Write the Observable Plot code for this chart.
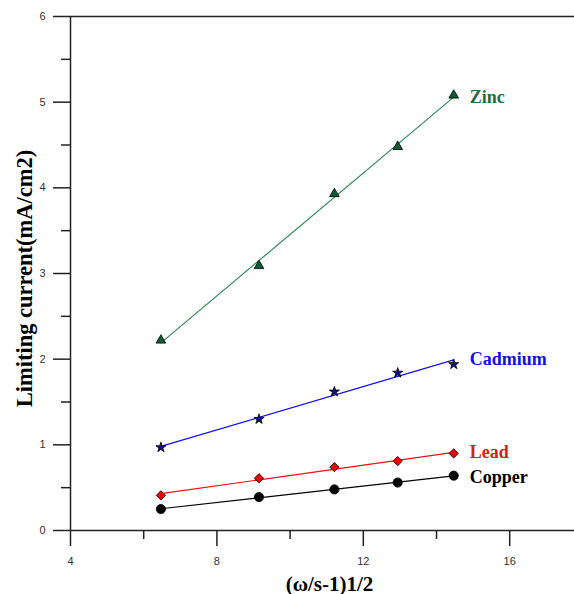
<!DOCTYPE html>
<html><head><meta charset="utf-8">
<script src="https://cdn.jsdelivr.net/npm/d3@7"></script>
<script src="https://cdn.jsdelivr.net/npm/@observablehq/plot@0.6"></script>
<style>body{margin:0;background:#fff}</style>
</head><body><div id="chart"></div>
<script>
const omegaRoot = [6.47, 9.15, 11.21, 12.94, 14.47];
const zinc    = [2.22, 3.09, 3.93, 4.48, 5.08];
const cadmium = [0.97, 1.30, 1.62, 1.84, 1.94];
const lead    = [0.41, 0.61, 0.74, 0.81, 0.90];
const copper  = [0.25, 0.39, 0.48, 0.56, 0.64];
const xMajor = [4, 8, 12, 16];
const xMinor = [6, 10, 14];
const yMajor = [0, 1, 2, 3, 4, 5, 6];
const yMinor = [0.5, 1.5, 2.5, 3.5, 4.5, 5.5];

const series = [
  {name: "Zinc", values: zinc, symbol: "triangle", fill: "#0d5c36", line: "#2e8b57", text: "#1b6e3e", dy: 2, r: 3.6},
  {name: "Cadmium", values: cadmium, symbol: "star", fill: "#101090", line: "#1010f0", text: "#1010e0", dy: -5, r: 3.2},
  {name: "Lead", values: lead, symbol: "diamond2", fill: "#f00000", line: "#f01010", text: "#d42020", dy: -1, r: 4.2},
  {name: "Copper", values: copper, symbol: "circle", fill: "#000000", line: "#000000", text: "#000000", dy: 2, r: 4.6}
];
const rows = series.flatMap(s => s.values.map((v, i) => ({series: s.name, x: omegaRoot[i], y: v})));

const marks = [];
for (const s of series) {
  const d = rows.filter(r => r.series === s.name);
  marks.push(Plot.linearRegressionY(d, {x: "x", y: "y", ci: 0, stroke: s.line, strokeWidth: 1.2}));
  marks.push(Plot.dot(d, {x: "x", y: "y", symbol: s.symbol, fill: s.fill, stroke: "#000", strokeWidth: 0.8, r: s.r}));
  marks.push(Plot.text([d[d.length - 1]], {x: "x", y: "y", text: () => s.name, textAnchor: "start", dx: 16, dy: s.dy,
    fill: s.text, fontSize: 18, fontWeight: "bold", fontFamily: "Liberation Serif"}));
}

const chart = Plot.plot({
  width: 574, height: 594,
  marginLeft: 70, marginRight: 0, marginTop: 16, marginBottom: 64,
  x: {domain: [4, 17.77], axis: null},
  y: {domain: [0, 6], axis: null},
  style: {fontFamily: "Liberation Sans", background: "#fff"},
  marks: [
    Plot.ruleY([0], {stroke: "#222", strokeWidth: 1.5}),
    Plot.ruleY([6], {stroke: "#222", strokeWidth: 1.5}),
    Plot.ruleX([4], {stroke: "#222", strokeWidth: 1.5}),
    Plot.axisY({ticks: yMajor, tickSize: 17, tickPadding: 8, tickFormat: d => String(d), fontSize: 11, stroke: "#222", strokeWidth: 1.5, color: "#333", label: null}),
    Plot.axisY({ticks: yMinor, tickSize: 9, tickFormat: () => "", stroke: "#222", strokeWidth: 1.5, label: null}),
    Plot.axisX({ticks: xMajor, tickSize: 16, tickPadding: 11, tickFormat: d => String(d), fontSize: 11, stroke: "#222", strokeWidth: 1.5, color: "#333", label: null}),
    Plot.axisX({ticks: xMinor, tickSize: 9, tickFormat: () => "", stroke: "#222", strokeWidth: 1.5, label: null}),
    ...marks,
    Plot.text(["Limiting current(mA/cm2)"], {frameAnchor: "left", textAnchor: "middle", lineAnchor: "middle", rotate: -90, dx: -46, dy: 5, fontSize: 22.5, fontWeight: "bold", fontFamily: "Liberation Serif", fill: "#000"}),
    Plot.text(["(ω/s-1)1/2"], {frameAnchor: "bottom", textAnchor: "middle", lineAnchor: "bottom", dx: 7, dy: 60, fontSize: 21, fontWeight: "bold", fontFamily: "Liberation Serif", fill: "#000"})
  ]
});
document.getElementById("chart").append(chart);
</script>
</body></html>
